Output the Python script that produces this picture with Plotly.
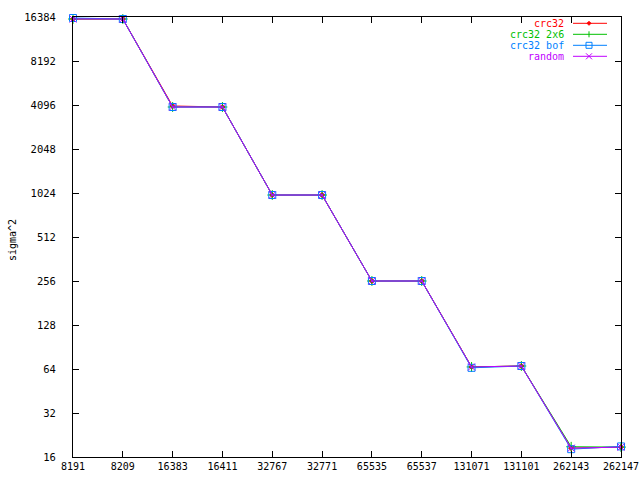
import plotly.graph_objects as go

x_labels = ["8191", "8209", "16383", "16411", "32767", "32771",
            "65535", "65537", "131071", "131101", "262143", "262147"]
crc32 = [15876, 15876, 4033, 3969, 992, 992, 256, 256, 66.1, 67.1, 18.4, 18.7]
crc32_2x6 = [15876, 15876, 3969, 3969, 992, 992, 256, 256, 66.1, 67.1, 18.8, 18.7]
crc32_bof = [16128, 15876, 3969, 3969, 992, 992, 256, 256, 65.2, 67.1, 18.1, 18.9]
random_v = [15876, 15876, 3969, 3969, 992, 992, 256, 256, 66.1, 67.1, 18.4, 18.7]
y_ticks = [16, 32, 64, 128, 256, 512, 1024, 2048, 4096, 8192, 16384]

series = [
    ("crc32", crc32, "#ff0000", "diamond", 4),
    ("crc32 2x6", crc32_2x6, "#00c000", "cross-thin", 7),
    ("crc32 bof", crc32_bof, "#0080ff", "square-open", 7),
    ("random", random_v, "#c000ff", "x-thin", 7),
]

idx = list(range(len(x_labels)))
fig = go.Figure()
for name, vals, col, sym, sz in series:
    fig.add_trace(go.Scatter(
        x=idx, y=vals, mode="lines+markers", name=name,
        line=dict(color=col, width=1),
        marker=dict(symbol=sym, size=sz, color=col, line=dict(color=col, width=1)),
        showlegend=False, cliponaxis=False))

FONT = "DejaVu Sans Mono"
FS = 10.5
W, H = 640, 480
# plot area in screen pixels
SL, SR, ST, SB = 73, 621, 17, 457
PW, PH = SR - SL, SB - ST

def px(xp):
    return (xp - SL) / PW

def py(yp):
    return (SB - yp) / PH

shapes = []
annotations = []
for i, (name, vals, col, sym, sz) in enumerate(series):
    yp = 23.3 + i * 11
    annotations.append(dict(x=px(566), y=py(yp), xref="paper", yref="paper",
                            text=name, showarrow=False, xanchor="right", yanchor="middle",
                            font=dict(family=FONT, size=10, color=col)))
    shapes.append(dict(type="line", xref="paper", yref="paper",
                       x0=px(573), x1=px(607), y0=py(yp), y1=py(yp),
                       line=dict(color=col, width=1)))
    cx, cy = 589, yp
    if sym == "diamond":
        d = 2
        shapes.append(dict(type="path", xref="paper", yref="paper",
                           path=f"M {px(cx-d)} {py(cy)} L {px(cx)} {py(cy-d)} L {px(cx+d)} {py(cy)} L {px(cx)} {py(cy+d)} Z",
                           line=dict(color=col, width=1), fillcolor=col))
    elif sym == "cross-thin":
        d = 3
        shapes.append(dict(type="line", xref="paper", yref="paper",
                           x0=px(cx), x1=px(cx), y0=py(cy-d), y1=py(cy+d), line=dict(color=col, width=1)))
    elif sym == "square-open":
        d = 3
        shapes.append(dict(type="rect", xref="paper", yref="paper",
                           x0=px(cx-d), x1=px(cx+d), y0=py(cy-d), y1=py(cy+d), line=dict(color=col, width=1)))
    else:
        d = 3
        shapes.append(dict(type="line", xref="paper", yref="paper",
                           x0=px(cx-d), x1=px(cx+d), y0=py(cy-d), y1=py(cy+d), line=dict(color=col, width=1)))
        shapes.append(dict(type="line", xref="paper", yref="paper",
                           x0=px(cx-d), x1=px(cx+d), y0=py(cy+d), y1=py(cy-d), line=dict(color=col, width=1)))

annotations.append(dict(x=px(12), y=py(240), xref="paper", yref="paper", text="sigma^2",
                        showarrow=False, textangle=-90, xanchor="center", yanchor="middle",
                        font=dict(family=FONT, size=10, color="black")))

fig.update_layout(
    width=W, height=H,
    margin=dict(l=SL, r=W - SR, t=ST, b=H - SB, pad=0, autoexpand=False),
    paper_bgcolor="white", plot_bgcolor="white",
    font=dict(family=FONT, size=FS, color="black"),
    shapes=shapes, annotations=annotations,
    xaxis=dict(range=[0, len(x_labels) - 1], tickmode="array", tickvals=idx, ticktext=x_labels,
               showgrid=False, zeroline=False, showline=True, linecolor="black", linewidth=1,
               mirror="allticks", ticks="inside", ticklen=6, tickcolor="black",
               automargin=False, tickangle=0, tickfont=dict(size=10),
               ticklabeloverflow="allow"),
    yaxis=dict(type="log", range=[1.20412, 4.21442], tickmode="array", tickvals=y_ticks,
               ticktext=[str(v) for v in y_ticks],
               showgrid=False, zeroline=False, showline=True, linecolor="black", linewidth=1,
               mirror="allticks", ticks="inside", ticklen=6, tickcolor="black",
               ticklabelstandoff=14, automargin=False),
)

fig.write_html("out.html", config={"displayModeBar": False},
               post_script="document.body.style.margin='0';document.body.style.overflow='hidden';")
